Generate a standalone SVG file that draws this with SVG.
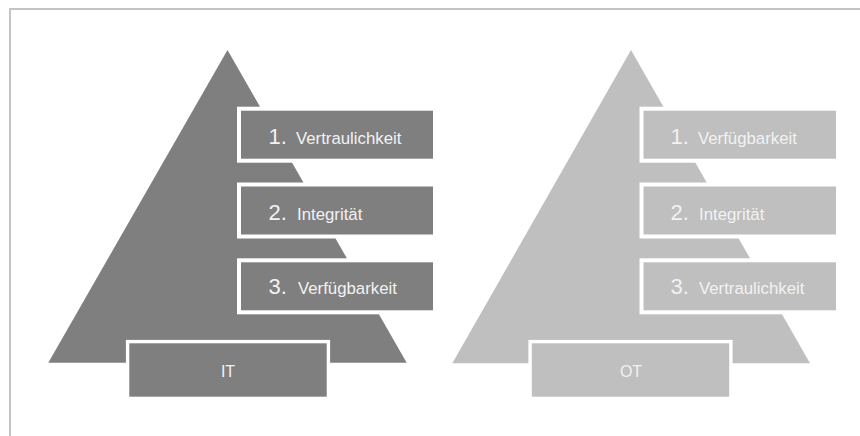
<svg xmlns="http://www.w3.org/2000/svg" width="860" height="436" viewBox="0 0 860 436">
  <style>
    .frame { fill: none; stroke: #c4c4c4; stroke-width: 2; }
    .pyrL { fill: #7f7f7f; }
    .pyrR { fill: #bfbfbf; }
    .boxL { fill: #7f7f7f; stroke: #ffffff; stroke-width: 4; }
    .boxR { fill: #bfbfbf; stroke: #ffffff; stroke-width: 4; }
    .baseL { fill: #7f7f7f; stroke: #ffffff; stroke-width: 3.4; }
    .baseR { fill: #bfbfbf; stroke: #ffffff; stroke-width: 3.4; }
    .num { font-family: "Liberation Sans", Arial, sans-serif; font-size: 22px; fill: #f2f2f2; }
    .lbl { font-family: "Liberation Sans", Arial, sans-serif; font-size: 16.8px; fill: #f2f2f2; }
    .base { font-family: "Liberation Sans", Arial, sans-serif; font-size: 16px; fill: #f2f2f2; text-anchor: middle; }
  </style>
  <rect x="0" y="0" width="860" height="436" fill="#ffffff"/>
  <path class="frame" d="M10 440 L10 9 L870 9"/>

  <g id="it-pyramid">
    <polygon class="pyrL" points="227.5,50 48.3,362.7 406.7,362.7"/>
  </g>
  <g id="it-1">
    <rect class="boxL" x="239" y="108.7" width="196" height="52"/>
    <text class="num" x="268.5" y="143.5">1.</text>
    <text class="lbl" x="296" y="143.5">Vertraulichkeit</text>
  </g>
  <g id="it-2">
    <rect class="boxL" x="239" y="184.5" width="196" height="52"/>
    <text class="num" x="268.5" y="219.5">2.</text>
    <text class="lbl" x="297" y="219.5">Integrität</text>
  </g>
  <g id="it-3">
    <rect class="boxL" x="239" y="260.3" width="196" height="52"/>
    <text class="num" x="268.5" y="294">3.</text>
    <text class="lbl" x="298" y="294">Verfügbarkeit</text>
  </g>
  <g id="it-base">
    <rect class="baseL" x="127.6" y="341.6" width="200.8" height="56.8"/>
    <text class="base" x="228" y="376.5">IT</text>
  </g>

  <g id="ot-pyramid">
    <polygon class="pyrR" points="631,50 452.3,363.3 810,363.3"/>
  </g>
  <g id="ot-1">
    <rect class="boxR" x="641.5" y="108.7" width="196.5" height="52"/>
    <text class="num" x="670.5" y="143.5">1.</text>
    <text class="lbl" x="698" y="143.5">Verfügbarkeit</text>
  </g>
  <g id="ot-2">
    <rect class="boxR" x="641.5" y="184.5" width="196.5" height="52"/>
    <text class="num" x="670.5" y="219.5">2.</text>
    <text class="lbl" x="699" y="219.5">Integrität</text>
  </g>
  <g id="ot-3">
    <rect class="boxR" x="641.5" y="260.3" width="196.5" height="52"/>
    <text class="num" x="670.5" y="294">3.</text>
    <text class="lbl" x="699" y="294">Vertraulichkeit</text>
  </g>
  <g id="ot-base">
    <rect class="baseR" x="530.1" y="341.6" width="200.8" height="56.8"/>
    <text class="base" x="631" y="376.5">OT</text>
  </g>

  <g id="connectors"/>
</svg>
